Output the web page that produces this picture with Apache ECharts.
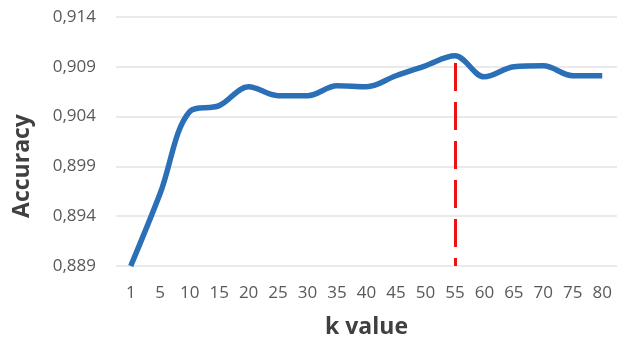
<!DOCTYPE html>
<html><head><meta charset="utf-8">
<script src="https://cdn.jsdelivr.net/npm/echarts@6/dist/echarts.min.js"></script>
<style>html,body{margin:0;padding:0;background:#fff}#c{width:618px;height:344px}</style>
</head><body><div id="c"></div>
<script>
var kValues = ['1','5','10','15','20','25','30','35','40','45','50','55','60','65','70','75','80'];
var accuracy = [0.8890,0.8963,0.9045,0.9051,0.9070,0.9061,0.9061,0.9071,0.9070,0.9081,0.9091,0.9101,0.9080,0.9090,0.9091,0.9081,0.9081];
var bestK = '55';
var bestAcc = 0.9101;
var yMin = 0.889, yMax = 0.914, yStep = 0.005;

var chart = echarts.init(document.getElementById('c'));
chart.setOption({
  animation: false,
  grid: {left: 116, right: 1, top: 17, bottom: 76},
  xAxis: {
    type: 'category', data: kValues, boundaryGap: true,
    name: 'k value', nameLocation: 'middle', nameGap: 50,
    nameTextStyle: {fontFamily: 'Open Sans', fontSize: 23, fontWeight: 'bold', color: '#404040'},
    axisLine: {show: false}, axisTick: {show: false},
    axisLabel: {fontFamily: 'Open Sans', fontSize: 17, color: '#595959', margin: 19}
  },
  yAxis: {
    type: 'value', min: yMin, max: yMax, interval: yStep,
    axisLine: {show: false}, axisTick: {show: false},
    splitLine: {lineStyle: {color: '#e3e3e3', width: 1.5}},
    axisLabel: {fontFamily: 'Open Sans', fontSize: 17, color: '#595959', margin: 20,
      formatter: function (v) { return v.toFixed(3).replace('.', ','); }}
  },
  graphic: [{
    type: 'text', x: 22, y: 166, rotation: Math.PI / 2,
    style: {text: 'Accuracy', fontFamily: 'Open Sans', fontSize: 23, fontWeight: 'bold',
      fill: '#404040', align: 'center', verticalAlign: 'middle'}
  }],
  series: [{
    type: 'line', data: accuracy, smooth: 0.35, showSymbol: false,
    lineStyle: {color: '#2b6fb6', width: 5.5},
    markLine: {
      symbol: 'none', silent: true, label: {show: false},
      lineStyle: {color: '#ee1111', type: [28, 11], dashOffset: 20, width: 3},
      data: [[{coord: [bestK, yMin]}, {coord: [bestK, bestAcc]}]]
    }
  }]
});
</script></body></html>
